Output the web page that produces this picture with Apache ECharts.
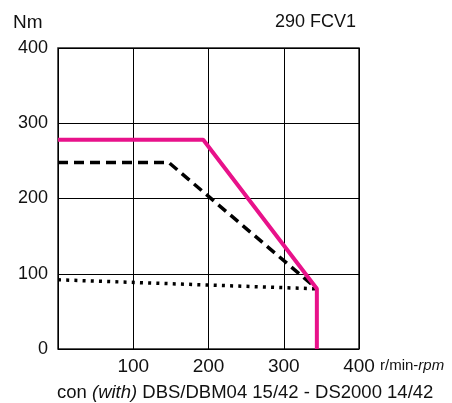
<!DOCTYPE html>
<html>
<head>
<meta charset="utf-8">
<script src="https://cdn.jsdelivr.net/npm/echarts@6/dist/echarts.min.js"></script>
<style>
  html, body { margin: 0; padding: 0; background: #fff; }
  #chart { width: 452px; height: 403px; }
</style>
</head>
<body>
<div id="chart"></div>
<script>
// speed (r/min) and torque (Nm) points for each curve
const rpmPeak = [0, 193, 344, 344];
const torquePeak = [278, 278, 80, 0];
const rpmDashed = [0, 147, 344];
const torqueDashed = [248, 248, 80];
const rpmDotted = [0, 344];
const torqueDotted = [92, 80];

const xTicks = [0, 100, 200, 300, 400];
const yTicks = [0, 100, 200, 300, 400];

const pair = (xs, ys) => xs.map((x, i) => [x, ys[i]]);

const font = "'Liberation Sans', Arial, sans-serif";

const chart = echarts.init(document.getElementById("chart"));
chart.setOption({
  animation: false,
  grid: {
    left: 58, right: 93, top: 48, bottom: 54,
    show: true, borderColor: "#222", borderWidth: 1.5
  },
  xAxis: {
    type: "value",
    min: xTicks[0],
    max: xTicks[xTicks.length - 1],
    interval: 100,
    axisLine: { show: false },
    axisTick: { show: false },
    splitLine: { lineStyle: { color: "#000", width: 1 } },
    axisLabel: {
      color: "#111", fontSize: 19, fontFamily: font, margin: 8,
      formatter: v => (v === 0 ? "" : String(v))
    }
  },
  yAxis: {
    type: "value",
    min: yTicks[0],
    max: yTicks[yTicks.length - 1],
    interval: 100,
    axisLine: { show: false },
    axisTick: { show: false },
    splitLine: { lineStyle: { color: "#000", width: 1 } },
    axisLabel: { color: "#111", fontSize: 18, fontFamily: font, margin: 10 }
  },
  graphic: [
    { type: "text", left: 13, top: 13, style: { text: "Nm", fontSize: 19, fontFamily: font, fill: "#111" } },
    { type: "text", right: 96, top: 13, style: { text: "290 FCV1", fontSize: 18, fontFamily: font, fill: "#111" } },
    {
      type: "text", left: 380, top: 358,
      style: {
        text: "r/min-{i|rpm}", fontSize: 15, fontFamily: font, fill: "#111",
        rich: { i: { fontStyle: "italic", fontSize: 15, fontFamily: font, fill: "#111" } }
      }
    },
    {
      type: "text", left: 57, top: 383,
      style: {
        text: "con {i|(with)} DBS/DBM04 15/42 - DS2000 14/42", fontSize: 18.5, fontFamily: font, fill: "#111",
        rich: { i: { fontStyle: "italic", fontSize: 18.5, fontFamily: font, fill: "#111" } }
      }
    }
  ],
  series: [
    {
      type: "line", data: pair(rpmDotted, torqueDotted), symbol: "none",
      lineStyle: { color: "#000", width: 3.5, type: [3, 5.2] }
    },
    {
      type: "line", data: pair(rpmDashed, torqueDashed), symbol: "none",
      lineStyle: { color: "#000", width: 3.5, type: [10, 6] }
    },
    {
      type: "line", data: pair(rpmPeak, torquePeak), symbol: "none",
      lineStyle: { color: "#e8128a", width: 4 }
    }
  ]
});
</script>
</body>
</html>
